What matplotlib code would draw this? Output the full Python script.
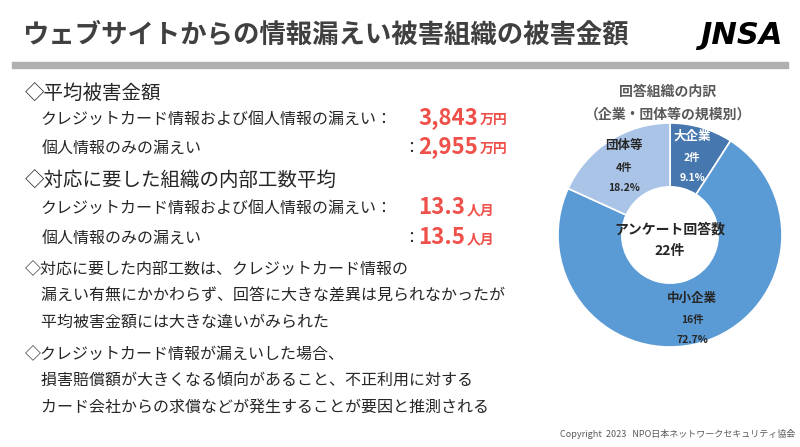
import matplotlib
matplotlib.use("Agg")
import matplotlib.pyplot as plt
from matplotlib.patches import Rectangle

F = "Noto Sans CJK JP"
plt.rcParams["font.family"] = F

categories = ["大企業", "中小企業", "団体等"]
counts = [2, 16, 4]
percents = ["9.1%", "72.7%", "18.2%"]
colors = ["#4677AF", "#5B9BD5", "#A9C4E6"]
total_label = "22"

W, H = 800, 447
fig = plt.figure(figsize=(8, 4.47), dpi=100)
fig.patch.set_facecolor("white")

def t(x, y, s, **kw):
    fig.text(x / W, 1 - y / H, s, **kw)

t(22, 35, "ウェブサイトからの情報漏えい被害組織の被害金額", fontsize=19, fontweight="bold", color="#404040", va="center")
t(700, 35, "JNSA", fontsize=22, fontweight="bold", style="italic", color="black", va="center", family="DejaVu Sans")
fig.add_artist(Rectangle((12 / W, 1 - 68 / H), 776 / W, 6 / H, transform=fig.transFigure, color="#B0B0B0"))

dark = "#262626"
red = "#F0504A"
t(25, 93, "◇平均被害金額", fontsize=14, color=dark, va="center")
t(40, 120, "クレジットカード情報および個人情報の漏えい：", fontsize=11.5, color=dark, va="center")
t(42, 148, "個人情報のみの漏えい", fontsize=11.5, color=dark, va="center")
t(403, 148, "：", fontsize=11.5, color=dark, va="center")
t(25, 180, "◇対応に要した組織の内部工数平均", fontsize=14, color=dark, va="center")
t(40, 209, "クレジットカード情報および個人情報の漏えい：", fontsize=11.5, color=dark, va="center")
t(42, 238, "個人情報のみの漏えい", fontsize=11.5, color=dark, va="center")
t(403, 238, "：", fontsize=11.5, color=dark, va="center")

for y, big, small in [(118, "3,843", "万円"), (147, "2,955", "万円"), (208, "13.3", "人月"), (237, "13.5", "人月")]:
    txt = fig.text(418 / W, 1 - y / H, big, fontsize=16, fontweight="bold", color=red, va="center")
    fig.canvas.draw()
    bb = txt.get_window_extent()
    fig.text(bb.x1 / W + 0.002, 1 - (y + 2) / H, small, fontsize=10, fontweight="bold", color=red, va="center")

body = [(270, "◇対応に要した内部工数は、クレジットカード情報の"),
        (296, "　漏えい有無にかかわらず、回答に大きな差異は見られなかったが"),
        (322, "　平均被害金額には大きな違いがみられた"),
        (355, "◇クレジットカード情報が漏えいした場合、"),
        (381, "　損害賠償額が大きくなる傾向があること、不正利用に対する"),
        (407, "　カード会社からの求償などが発生することが要因と推測される")]
for y, s in body:
    t(25, y, s, fontsize=11.5, color=dark, va="center")

t(560, 434, "Copyright  2023   NPO日本ネットワークセキュリティ協会", fontsize=6.5, color="#595959", va="center")

t(668, 92, "回答組織の内訳", fontsize=10, fontweight="bold", color="#595959", ha="center", va="center")
t(668, 115, "（企業・団体等の規模別）", fontsize=10, fontweight="bold", color="#595959", ha="center", va="center")

cx, cy, r = 670, 235, 112
ax = fig.add_axes([(cx - r) / W, 1 - (cy + r) / H, 2 * r / W, 2 * r / H])
ax.pie(counts, colors=colors, startangle=90, counterclock=False,
       wedgeprops=dict(width=0.57, edgecolor="white", linewidth=1.2))
ax.set_aspect("equal")
ax.set_xlim(-1, 1); ax.set_ylim(-1, 1)
ax.text(0, 0.05, "アンケート回答数", ha="center", va="center", fontsize=10, fontweight="bold", color=dark)
ax.text(0, -0.14, total_label + "件", ha="center", va="center", fontsize=10, fontweight="bold", color=dark)

label_pos = [((692, 136), "white"), ((692, 298), dark), ((624, 146), dark)]
for (px, py), c, cat, n, p in zip([l[0] for l in label_pos], [l[1] for l in label_pos], categories, counts, percents):
    t(px, py, cat, fontsize=9, fontweight="bold", color=c, ha="center", va="center")
    t(px, py + 22, f"{n}件", fontsize=7.5, fontweight="bold", color=c, ha="center", va="center")
    t(px, py + 42, p, fontsize=7.5, fontweight="bold", color=c, ha="center", va="center")

fig.savefig("out.png", dpi=100)
